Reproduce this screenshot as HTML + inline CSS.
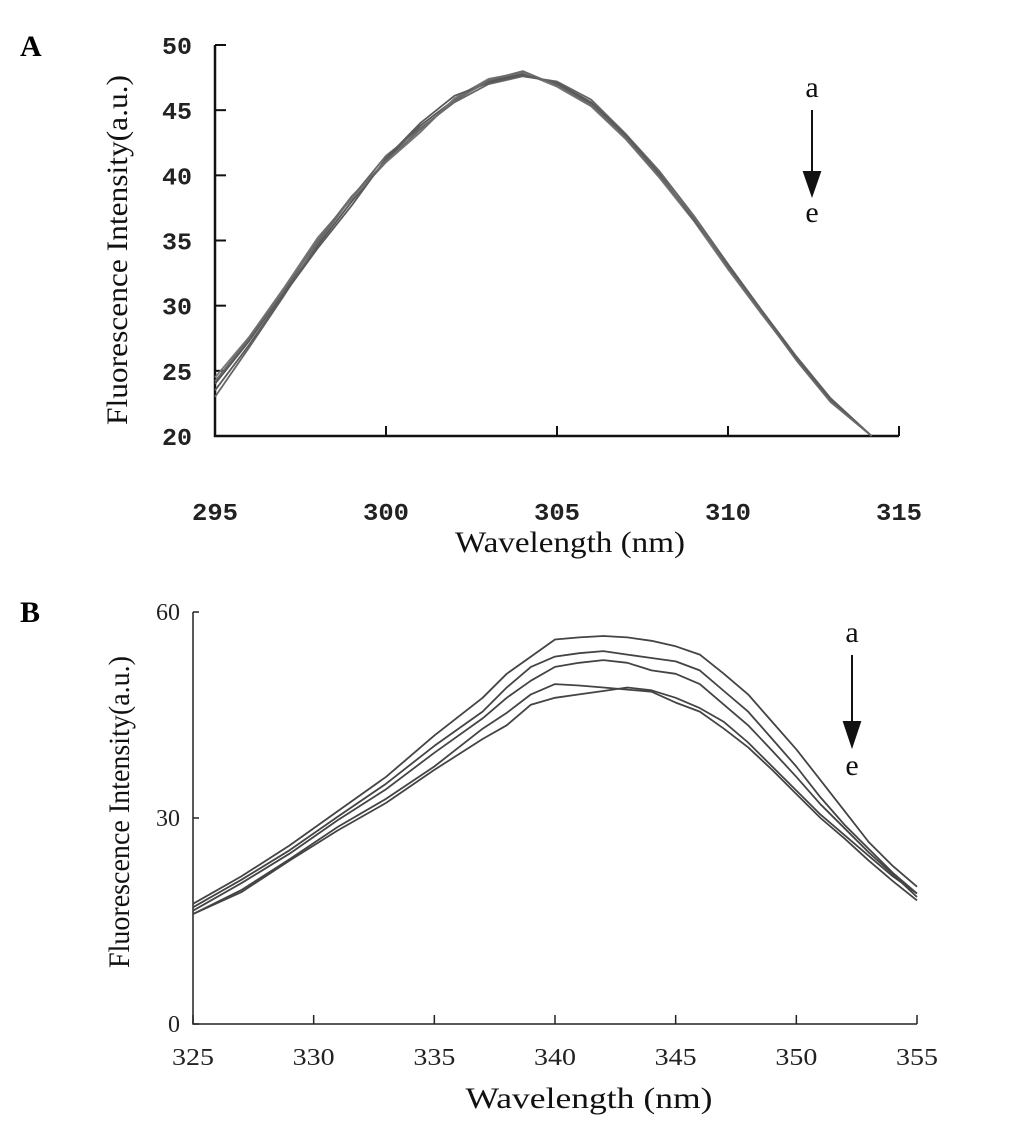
<!DOCTYPE html>
<html><head><meta charset="utf-8"><style>
body{margin:0;background:#fff;}
svg{display:block;}
.lbA{font-family:"Liberation Mono",monospace;font-weight:bold;font-size:24px;fill:#222;}
.lbB{font-family:"Liberation Serif",serif;font-size:24px;fill:#222;}
.tt{font-family:"Liberation Serif",serif;font-size:30px;fill:#111;}
</style></head><body>
<svg id="chart" width="1033" height="1132" viewBox="0 0 1033 1132" xmlns="http://www.w3.org/2000/svg">
<text x="20" y="56" font-family="Liberation Serif" font-weight="bold" font-size="30">A</text>
<text x="20" y="622" font-family="Liberation Serif" font-weight="bold" font-size="30">B</text>
<g id="pa"></g>
<g id="pb"></g>
</svg>
<script>
const xA=[295,296,297,298,299,300,301,302,303,304,305,306,307,308,309,310,311,312,313,314.2];
const seriesA1=[24,27.3,31,34.6,38,41.2,43.8,45.8,47.2,47.8,47,45.5,43,40,36.7,33,29.5,26,22.8,20];
const seriesA2=[23,26.8,30.7,34.8,38.3,41.5,43.6,45.6,47,47.6,47.2,45.8,43.2,40.3,36.9,33.2,29.6,26.1,22.9,20];
const seriesA3=[24.5,27.6,31.3,35.2,38.2,41,43.3,45.9,47.4,47.9,46.8,45.3,42.8,39.8,36.5,32.8,29.3,25.9,22.7,20];
const seriesA4=[23.5,27,30.8,34.4,37.7,41.3,44,46.1,47.1,47.7,47.1,45.6,43.1,40.1,36.6,33.1,29.5,26,22.8,20];
const seriesA5=[24.2,27.5,31.1,35,38.4,41.1,43.5,45.7,47.3,48,46.9,45.4,42.9,39.9,36.8,32.9,29.4,25.8,22.6,20];
const ticksAx=[295,300,305,310,315];
const ticksAy=[20,25,30,35,40,45,50];

const xB=[325,327,329,331,333,335,337,338,339,340,341,342,343,344,345,346,347,348,349,350,351,352,353,354,355];
const seriesBa=[17.5,21.5,26,31,36,42,47.5,51,53.5,56,56.3,56.5,56.3,55.8,55,53.8,51,48,44,40,35.5,31,26.5,23,20];
const seriesBb=[17,21,25.3,30.2,35,40.5,45.5,49,52,53.5,54,54.3,53.8,53.3,52.8,51.5,48.5,45.5,41.5,37.5,33,29,25.5,22,19];
const seriesBc=[16.5,20.5,24.8,29.7,34.2,39.5,44.5,47.5,50,52,52.6,53,52.6,51.5,51,49.5,46.5,43.5,39.8,36,32,28.5,25,21.8,18.5];
const seriesBd=[16,19.5,24,28.7,32.8,37.5,43,45.3,48,49.5,49.3,49,48.7,48.4,46.8,45.5,43,40.3,37,33.5,30,27,23.8,20.8,18];
const seriesBe=[16,19.2,23.8,28.2,32.2,37,41.5,43.5,46.5,47.5,48,48.5,49,48.6,47.5,46,44,41,37.5,34,30.5,27.5,24.5,21.5,19];
const ticksBx=[325,330,335,340,345,350,355];
const ticksBy=[0,30,60];

const NS="http://www.w3.org/2000/svg";
function mk(parent,tag,attrs,txt){const e=document.createElementNS(NS,tag);for(const k in attrs)e.setAttribute(k,attrs[k]);if(txt!==undefined)e.textContent=txt;parent.appendChild(e);return e;}

// Panel A
const pa=document.getElementById('pa');
const axA=v=>215+(v-295)*(899-215)/20;
const ayA=v=>436-(v-20)*(436-45)/30;
let e=mk(pa,'path',{d:`M${axA(295)} ${ayA(50)} V${ayA(20)} H${axA(315)}`,fill:'none',stroke:'#111','stroke-width':2.5});


ticksAy.forEach(t=>{
 let l=mk(pa,'line',{x1:axA(295),x2:axA(295)+11,y1:ayA(t),y2:ayA(t),stroke:'#111','stroke-width':2});
 
 
 let tx=mk(pa,'text',{x:192,y:ayA(t)+9,'text-anchor':'end',class:'lbA',textLength:30,lengthAdjust:'spacingAndGlyphs'},String(t));
 
 
});
ticksAx.forEach(t=>{
 if(t!==295){let l=mk(pa,'line',{x1:axA(t),x2:axA(t),y1:ayA(20),y2:ayA(20)-10,stroke:'#111','stroke-width':2});
 
 }
 let tx=mk(pa,'text',{x:axA(t),y:520,'text-anchor':'middle',class:'lbA',textLength:46,lengthAdjust:'spacingAndGlyphs'},String(t));
 
 
});
[seriesA1,seriesA2,seriesA3,seriesA4,seriesA5].forEach((s,i)=>{
 const d=s.map((v,j)=>(j?'L':'M')+axA(xA[j]).toFixed(1)+' '+ayA(v).toFixed(1)).join(' ');
 let p=mk(pa,'path',{d:d,fill:'none',stroke:['#555','#666','#777','#5a5a5a','#6a6a6a'][i],'stroke-width':1.8,'stroke-linejoin':'round'});
 
 
});
e=mk(pa,'text',{x:570,y:552,'text-anchor':'middle',class:'tt',textLength:230,lengthAdjust:'spacingAndGlyphs'},'Wavelength (nm)');


e=mk(pa,'text',{x:0,y:0,'text-anchor':'middle',class:'tt',textLength:350,lengthAdjust:'spacingAndGlyphs',transform:'translate(127,250) rotate(-90)'},'Fluorescence Intensity(a.u.)');


e=mk(pa,'text',{x:812,y:97,'text-anchor':'middle',class:'tt'},'a');


e=mk(pa,'path',{d:'M812 110 V180 M804 172 L812 195 L820 172 Z',stroke:'#111','stroke-width':2,fill:'#111'});


e=mk(pa,'text',{x:812,y:222,'text-anchor':'middle',class:'tt'},'e');



// Panel B
const pb=document.getElementById('pb');
const axB=v=>193+(v-325)*(917-193)/30;
const ayB=v=>1024-v*(1024-612)/60;
e=mk(pb,'path',{d:`M${axB(325)} ${ayB(60)} V${ayB(0)} H${axB(355)}`,fill:'none',stroke:'#222','stroke-width':1.5});


ticksBy.forEach(t=>{
 let l=mk(pb,'line',{x1:axB(325),x2:axB(325)+6,y1:ayB(t),y2:ayB(t),stroke:'#222','stroke-width':1.5});
 
 
 let tx=mk(pb,'text',{x:180,y:ayB(t)+8,'text-anchor':'end',class:'lbB'},String(t));
 
 
});
ticksBx.forEach(t=>{
 let l=mk(pb,'line',{x1:axB(t),x2:axB(t),y1:ayB(0),y2:ayB(0)-9,stroke:'#222','stroke-width':1.5});
 
 
 let tx=mk(pb,'text',{x:axB(t),y:1065,'text-anchor':'middle',class:'lbB',textLength:42,lengthAdjust:'spacingAndGlyphs'},String(t));
 
 
});
[seriesBa,seriesBb,seriesBc,seriesBd,seriesBe].forEach((s,i)=>{
 const d=s.map((v,j)=>(j?'L':'M')+axB(xB[j]).toFixed(1)+' '+ayB(v).toFixed(1)).join(' ');
 let p=mk(pb,'path',{d:d,fill:'none',stroke:'#444','stroke-width':1.8,'stroke-linejoin':'round'});
 
 
});
e=mk(pb,'text',{x:589,y:1108,'text-anchor':'middle',class:'tt',textLength:247,lengthAdjust:'spacingAndGlyphs'},'Wavelength (nm)');


e=mk(pb,'text',{x:0,y:0,'text-anchor':'middle',class:'tt',textLength:312,lengthAdjust:'spacingAndGlyphs',transform:'translate(129,812) rotate(-90)'},'Fluorescence Intensity(a.u.)');


e=mk(pb,'text',{x:852,y:642,'text-anchor':'middle',class:'tt'},'a');


e=mk(pb,'path',{d:'M852 655 V728 M844 722 L852 746 L860 722 Z',stroke:'#111','stroke-width':2,fill:'#111'});


e=mk(pb,'text',{x:852,y:775,'text-anchor':'middle',class:'tt'},'e');


</script>
</body></html>
